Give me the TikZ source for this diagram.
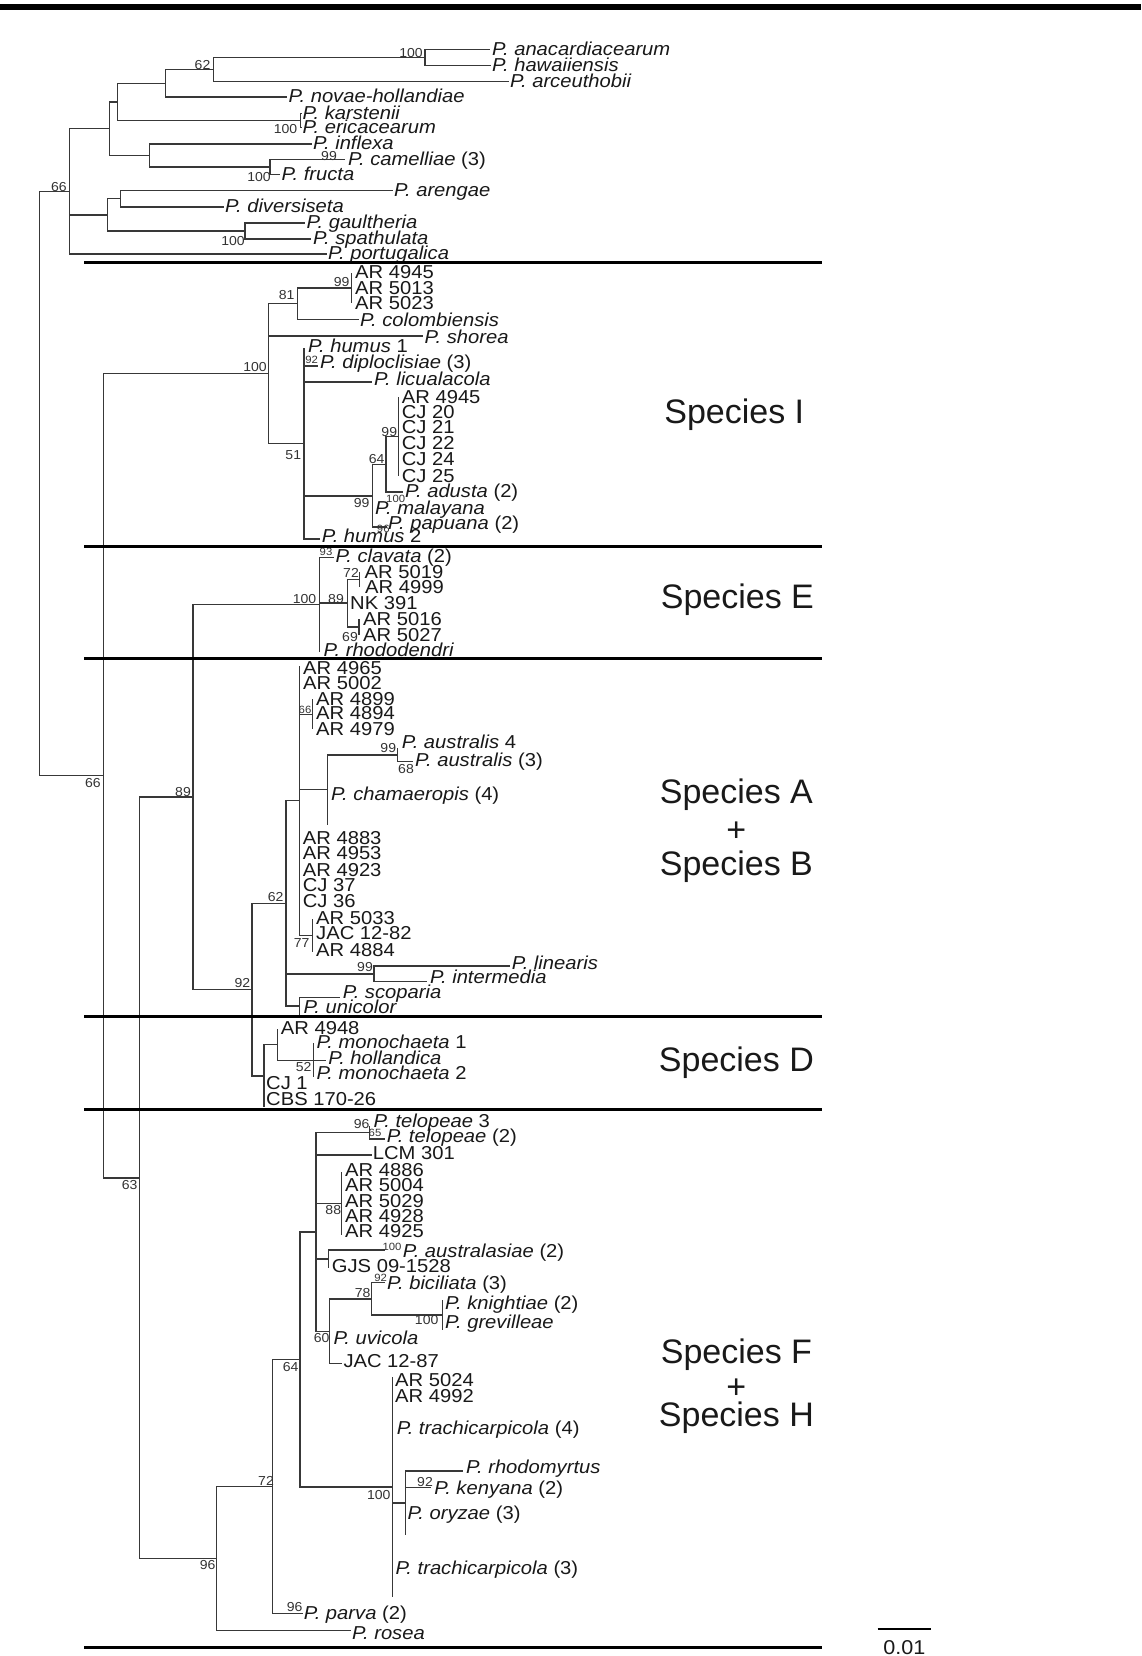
\documentclass[tikz,border=0pt]{standalone}
\usepackage{fontspec}
\setmainfont{Liberation Sans}[FakeStretch=1.08]
\newfontfamily\specfont{Liberation Sans}
\newcommand\Pn[1]{\textit{P. #1}}
\newcommand\Tip[6]{\coordinate (t#1) at (#2,#3);\node[tl] (l#1) at (#4,#5) {#6};}
\newcommand\Edge[2]{\foreach \kid in {#2}{\draw[br] (#1) |- (\kid);}}
\newcommand\SupL[5][sl]{\node[#1] (#2) at (#3,#4) {#5};}
\begin{document}
\begin{tikzpicture}[x=1pt,y=-1pt,
  br/.style={line width=1.35pt, draw=black!78},
  tl/.style={anchor=west, inner sep=0pt, text height=13.2pt, text depth=0pt, font=\fontsize{18.7pt}{18.7pt}\selectfont, text=black!90},
  sl/.style={inner sep=0pt, font=\fontsize{13pt}{13pt}\selectfont, text=black!80},
  ssl/.style={inner sep=0pt, font=\fontsize{10.5pt}{10.5pt}\selectfont, text=black!80},
  sepl/.style={line width=3pt, draw=black},
  spl/.style={inner sep=0pt, align=center, font=\specfont\fontsize{34pt}{34pt}\selectfont, text=black!90}]
\fill[white] (0,0) rectangle (1141,1656);
\useasboundingbox (0,0) rectangle (1141,1656);

% ---------- internal nodes ----------
\coordinate (root) at (39.5,483.55);
\coordinate (n66) at (69.2,191.4);
\coordinate (nA) at (109.5,128.7);
\coordinate (n298) at (117.8,101.9);
\coordinate (n418) at (165.3,83.25);
\coordinate (n62) at (213.5,69.5);
\coordinate (n100a) at (425,57.5);
\coordinate (nkar) at (300.5,120.5);
\coordinate (ninf) at (149.5,155.5);
\coordinate (nfru) at (270,167);
\coordinate (nB) at (107.5,214.9);
\coordinate (ndiv) at (120.6,198.75);
\coordinate (ngaul) at (245,231);

\coordinate (n66b) at (103.6,775.7);
\coordinate (nI) at (268.3,373.6);
\coordinate (n81) at (297.3,303.65);
\coordinate (n99a) at (351.7,288);
\coordinate (n51) at (304,443.5);
\coordinate (n99b) at (372.7,495.9);
\coordinate (n64) at (386,464.4);
\coordinate (n99c) at (398.3,436.35);

\coordinate (n63) at (139.2,1177.85);
\coordinate (n89) at (193,797.1);
\coordinate (nE) at (319.5,604.5);
\coordinate (n89E) at (347.2,603.1);
\coordinate (n72E) at (359.8,579.2);
\coordinate (n69E) at (359,627.15);
\coordinate (n92) at (251.9,989.65);
\coordinate (n62AB) at (286,903.3);
\coordinate (nAB1) at (299.3,800.75);
\coordinate (n66AB) at (312.7,714.3);
\coordinate (nCham) at (327.3,789.65);
\coordinate (n99au) at (397.7,755);
\coordinate (n77) at (312.7,935.5);
\coordinate (n99L) at (374,973.85);
\coordinate (nSU) at (299.3,1006.15);
\coordinate (nD) at (264.1,1076);
\coordinate (nD2) at (277.6,1044.65);
\coordinate (n52) at (313.2,1060.3);

\coordinate (n96) at (216.7,1558.6);
\coordinate (n72) at (272.8,1486.45);
\coordinate (n64F) at (300,1359.45);
\coordinate (nF1) at (316,1231.9);
\coordinate (n96T) at (369.3,1132.5);
\coordinate (n88) at (341.7,1203.35);
\coordinate (nAus) at (328.3,1259.15);
\coordinate (n60) at (329.3,1331.3);
\coordinate (n78) at (371.7,1298.85);
\coordinate (n100K) at (442.7,1315);
\coordinate (n100H) at (392.2,1487);
\coordinate (nRK) at (405.3,1503);

% ---------- tips ----------
\Tip{anac}{490}{49.5}{492}{48.5}{\Pn{anacardiacearum}}
\Tip{haw}{491}{65.5}{492}{64.5}{\Pn{hawaiiensis}}
\Tip{arc}{509}{81.5}{510}{80.5}{\Pn{arceuthobii}}
\Tip{novae}{287}{97}{288.5}{96}{\Pn{novae-hollandiae}}
\Tip{kar}{302}{113.5}{302.5}{112.5}{\Pn{karstenii}}
\Tip{eric}{302}{127.5}{302.5}{127}{\Pn{ericacearum}}
\Tip{infl}{312}{144}{313}{143}{\Pn{inflexa}}
\Tip{cam}{345}{159.5}{348}{158.5}{\Pn{camelliae} (3)}
\Tip{fru}{280}{174.5}{281.5}{174}{\Pn{fructa}}
\Tip{aren}{393}{190.5}{394}{189.5}{\Pn{arengae}}
\Tip{div}{224}{207}{225}{206}{\Pn{diversiseta}}
\Tip{gaul}{305}{223}{306.5}{222}{\Pn{gaultheria}}
\Tip{spath}{311}{239}{313}{238}{\Pn{spathulata}}
\Tip{port}{327}{254}{328}{253}{\Pn{portugalica}}

\Tip{ARa}{351.7}{272.7}{355}{272}{AR 4945}
\Tip{ARb}{351.7}{288.3}{355}{288}{AR 5013}
\Tip{ARc}{351.7}{303.3}{355}{303}{AR 5023}
\Tip{col}{358.5}{319.3}{360}{319.5}{\Pn{colombiensis}}
\Tip{shorea}{423.3}{336}{424.5}{336.5}{\Pn{shorea}}
\Tip{humA}{304}{348}{308}{346}{\Pn{humus} 1}
\Tip{dip}{318}{366}{320}{362}{\Pn{diploclisiae} (3)}
\Tip{lic}{372}{382}{374}{379}{\Pn{licualacola}}
\Tip{ARd}{398.3}{396.7}{401.7}{396.7}{AR 4945}
\Tip{CJa}{398.3}{411.7}{401.7}{411.5}{CJ 20}
\Tip{CJb}{398.3}{426.7}{401.7}{426.5}{CJ 21}
\Tip{CJc}{398.3}{442.7}{401.7}{442.5}{CJ 22}
\Tip{CJd}{398.3}{459.3}{401.7}{459}{CJ 24}
\Tip{CJe}{398.3}{476}{401.7}{475.5}{CJ 25}
\Tip{adu}{403.3}{492}{405}{491}{\Pn{adusta} (2)}
\Tip{mal}{372.7}{509}{375}{508.3}{\Pn{malayana}}
\Tip{pap}{386.5}{527}{388}{523.3}{\Pn{papuana} (2)}
\Tip{humB}{320}{539}{321.7}{536}{\Pn{humus} 2}

\Tip{clav}{334}{557.3}{335.3}{556}{\Pn{clavata} (2)}
\Tip{ARe}{359.8}{571.7}{364.5}{571.5}{AR 5019}
\Tip{ARf}{359.8}{586.7}{365}{587}{AR 4999}
\Tip{NK}{347.2}{603}{350}{603.3}{NK 391}
\Tip{ARg}{359}{619.3}{363}{618.5}{AR 5016}
\Tip{ARh}{359}{635}{363}{634.5}{AR 5027}
\Tip{rhod}{319.5}{651.7}{323.5}{650}{\Pn{rhododendri}}

\Tip{ARi}{299.3}{666}{303}{668}{AR 4965}
\Tip{ARj}{299.3}{683.3}{303}{683.3}{AR 5002}
\Tip{ARk}{312.7}{699.3}{316}{699.3}{AR 4899}
\Tip{ARl}{312.7}{713.3}{316}{713.3}{AR 4894}
\Tip{ARm}{312.7}{729.3}{316}{729.3}{AR 4979}
\Tip{ausA}{397.7}{748.3}{401.7}{741.7}{\Pn{australis} 4}
\Tip{ausB}{413.3}{761.7}{415}{760}{\Pn{australis} (3)}
\coordinate (tchamend) at (327.3,825);
\node[tl] (lcham) at (331,794) {\Pn{chamaeropis} (4)};
\Tip{ARn}{299.3}{838.3}{302.7}{838.3}{AR 4883}
\Tip{ARo}{299.3}{853.3}{302.7}{853.3}{AR 4953}
\Tip{ARp}{299.3}{870}{302.7}{870}{AR 4923}
\Tip{CJf}{299.3}{885}{302.7}{885}{CJ 37}
\Tip{CJg}{299.3}{900.7}{302.7}{900.7}{CJ 36}
\Tip{ARq}{312.7}{919}{316}{918.3}{AR 5033}
\Tip{JACa}{312.7}{935}{316}{933.3}{JAC 12-82}
\Tip{ARr}{312.7}{952}{316}{950}{AR 4884}
\Tip{lin}{510}{966}{511.7}{963.3}{\Pn{linearis}}
\Tip{inter}{426.7}{981.7}{430}{976.7}{\Pn{intermedia}}
\Tip{scop}{340}{997.3}{342.7}{991.7}{\Pn{scoparia}}
\Tip{unic}{299.3}{1015}{303.3}{1006.7}{\Pn{unicolor}}

\Tip{ARs}{277.6}{1029}{280.7}{1028.3}{AR 4948}
\Tip{monA}{313.2}{1043.3}{316.3}{1041.7}{\Pn{monochaeta} 1}
\Tip{holl}{326.2}{1060.7}{328.2}{1058.3}{\Pn{hollandica}}
\Tip{monB}{313.2}{1077.3}{316.3}{1073.3}{\Pn{monochaeta} 2}
\Tip{CJh}{264.1}{1083}{266}{1082.7}{CJ 1}
\Tip{CBS}{264.1}{1107}{266}{1099.3}{CBS 170-26}

\Tip{telA}{369.3}{1126}{373.3}{1120.7}{\Pn{telopeae} 3}
\Tip{telB}{385}{1139}{386.7}{1136}{\Pn{telopeae} (2)}
\Tip{LCM}{371.7}{1155}{372.7}{1153.3}{LCM 301}
\Tip{ARt}{341.7}{1171.7}{345}{1170}{AR 4886}
\Tip{ARu}{341.7}{1186.5}{345}{1185}{AR 5004}
\Tip{ARv}{341.7}{1202}{345}{1200.7}{AR 5029}
\Tip{ARw}{341.7}{1217.5}{345}{1216}{AR 4928}
\Tip{ARx}{341.7}{1235}{345}{1230.7}{AR 4925}
\Tip{ausl}{385}{1250}{402.7}{1250.7}{\Pn{australasiae} (2)}
\Tip{GJS}{328.3}{1268.3}{331.7}{1266}{GJS 09-1528}
\Tip{bic}{385}{1282.7}{387}{1283}{\Pn{biciliata} (3)}
\Tip{knight}{442.7}{1300}{445}{1302.7}{\Pn{knightiae} (2)}
\Tip{grev}{442.7}{1330}{445}{1321.7}{\Pn{grevilleae}}
\Tip{uvi}{329.3}{1338}{333.3}{1338.3}{\Pn{uvicola}}
\Tip{JACb}{341.7}{1363.3}{343.3}{1360.7}{JAC 12-87}
\Tip{ARy}{392.2}{1377}{395}{1380}{AR 5024}
\Tip{ARz}{392.2}{1396}{395}{1396}{AR 4992}
\Tip{traA}{392.2}{1428}{396.7}{1428.3}{\Pn{trachicarpicola} (4)}
\Tip{traB}{392.2}{1568}{395.4}{1568.3}{\Pn{trachicarpicola} (3)}
\coordinate (tHbot) at (392.2,1597);
\Tip{rhodo}{462.6}{1471}{466}{1467}{\Pn{rhodomyrtus}}
\Tip{ken}{431}{1487.3}{434.2}{1488.3}{\Pn{kenyana} (2)}
\Tip{ory}{405.3}{1513}{407.3}{1513.3}{\Pn{oryzae} (3)}
\coordinate (tRKbot) at (405.3,1535);
\Tip{parva}{302.5}{1613.3}{303.7}{1612.7}{\Pn{parva} (2)}
\Tip{rosea}{351}{1630.7}{352}{1632.7}{\Pn{rosea}}

% ---------- branches ----------
\Edge{root}{n66,n66b}
\Edge{n66}{nA,nB,tport}
\Edge{nA}{n298,ninf}
\Edge{n298}{n418,nkar}
\Edge{n418}{n62,tnovae}
\Edge{n62}{n100a,tarc}
\Edge{n100a}{tanac,thaw}
\Edge{nkar}{tkar,teric}
\Edge{ninf}{tinfl,nfru}
\Edge{nfru}{tcam,tfru}
\Edge{nB}{ndiv,ngaul}
\Edge{ndiv}{taren,tdiv}
\Edge{ngaul}{tgaul,tspath}

\Edge{n66b}{nI,n63}
\Edge{nI}{n81,tshorea,n51}
\Edge{n81}{n99a,tcol}
\Edge{n99a}{tARa,tARb,tARc}
\Edge{n51}{thumA,tdip,tlic,n99b,thumB}
\Edge{n99b}{n64,tmal,tpap}
\Edge{n64}{n99c,tadu}
\Edge{n99c}{tARd,tCJa,tCJb,tCJc,tCJd,tCJe}

\Edge{n63}{n89,n96}
\Edge{n89}{nE,n92}
\Edge{nE}{tclav,n89E,trhod}
\Edge{n89E}{n72E,tNK,n69E}
\Edge{n72E}{tARe,tARf}
\Edge{n69E}{tARg,tARh}
\Edge{n92}{n62AB,nD}
\Edge{n62AB}{nAB1,n99L,nSU}
\Edge{nAB1}{tARi,tARj,n66AB,nCham,tARn,tARo,tARp,tCJf,tCJg,n77}
\Edge{n66AB}{tARk,tARl,tARm}
\Edge{nCham}{n99au,tchamend}
\Edge{n99au}{tausA,tausB}
\Edge{n77}{tARq,tJACa,tARr}
\Edge{n99L}{tlin,tinter}
\Edge{nSU}{tscop,tunic}
\Edge{nD}{nD2,tCJh,tCBS}
\Edge{nD2}{tARs,n52}
\Edge{n52}{tmonA,tholl,tmonB}

\Edge{n96}{n72,trosea}
\Edge{n72}{n64F,tparva}
\Edge{n64F}{nF1,n100H}
\Edge{nF1}{n96T,tLCM,n88,nAus,n60}
\Edge{n96T}{ttelA,ttelB}
\Edge{n88}{tARt,tARu,tARv,tARw,tARx}
\Edge{nAus}{tausl,tGJS}
\Edge{n60}{n78,tuvi,tJACb}
\Edge{n78}{tbic,n100K}
\Edge{n100K}{tknight,tgrev}
\Edge{n100H}{tARy,tARz,ttraA,nRK,ttraB,tHbot}
\Edge{nRK}{trhodo,tken,tory,tRKbot}

% ---------- support values ----------
\SupL{s1}{411}{53.5}{100}
\SupL{s2}{202.5}{65}{62}
\SupL{s3}{285.5}{129.5}{100}
\SupL{s4}{329}{156}{99}
\SupL{s5}{259}{177}{100}
\SupL{s6}{59}{187}{66}
\SupL{s7}{233}{241}{100}
\SupL{s8}{341.7}{281.7}{99}
\SupL{s9}{286.7}{295}{81}
\SupL{s10}{255}{367}{100}
\SupL[ssl]{s11}{311.7}{360}{92}
\SupL{s12}{293.3}{455}{51}
\SupL{s13}{376.7}{459.3}{64}
\SupL{s14}{389.3}{431.7}{99}
\SupL{s15}{361.7}{503.3}{99}
\SupL[ssl]{s16}{395.7}{499.3}{100}
\SupL[ssl]{s17}{383.3}{529}{96}
\SupL[ssl]{s18}{326}{551.7}{93}
\SupL{s19}{304.5}{599.3}{100}
\SupL{s20}{336}{599.3}{89}
\SupL{s21}{351}{573.3}{72}
\SupL{s22}{350}{636.7}{69}
\SupL{s23}{92.9}{783.3}{66}
\SupL{s24}{183}{791.7}{89}
\SupL[ssl]{s25}{305}{710}{66}
\SupL{s26}{388.3}{748.3}{99}
\SupL{s27}{406}{769.3}{68}
\SupL{s28}{275.6}{896.7}{62}
\SupL{s29}{301.7}{943.3}{77}
\SupL{s30}{365}{966.7}{99}
\SupL{s31}{242.4}{983.3}{92}
\SupL{s32}{303.7}{1067.3}{52}
\SupL{s33}{129.7}{1185}{63}
\SupL{s34}{361.7}{1124}{96}
\SupL[ssl]{s35}{375}{1132.7}{65}
\SupL{s36}{333.3}{1210}{88}
\SupL[ssl]{s37}{392}{1247}{100}
\SupL[ssl]{s38}{380.7}{1278.3}{92}
\SupL{s39}{362.7}{1292.7}{78}
\SupL{s40}{426.7}{1320}{100}
\SupL{s41}{321.7}{1338.3}{60}
\SupL{s42}{290.7}{1366.7}{64}
\SupL{s43}{266}{1480.7}{72}
\SupL{s44}{378.8}{1495}{100}
\SupL{s45}{425}{1481.7}{92}
\SupL{s46}{207.6}{1565}{96}
\SupL{s47}{294.6}{1606.7}{96}

% ---------- separators ----------
\draw[line width=5.5pt] (0,7) -- (1141,7);
\foreach \yy in {262.7,546.2,658.3,1016.7,1109,1647.5}
  \draw[sepl] (84,\yy) -- (822,\yy);

% ---------- species labels ----------
\node[spl] (spI) at (734.3,415.2) {Species I};
\node[spl] (spE) at (737.4,600.1) {Species E};
\node[spl] (spA) at (736.4,794.5) {Species A};
\node[spl] (spP1) at (736.4,831.5) {+};
\node[spl] (spB) at (736.4,866.3) {Species B};
\node[spl] (spD) at (736.4,1062.8) {Species D};
\node[spl] (spF) at (736.4,1354.4) {Species F};
\node[spl] (spP2) at (736.4,1388.2) {+};
\node[spl] (spH) at (736.4,1417.8) {Species H};

% ---------- scale bar ----------
\coordinate (sbA) at (877.7,1629);
\coordinate (sbB) at (931,1629);
\draw[line width=2.5pt] (sbA) -- (sbB);
\node[inner sep=0pt, font=\fontsize{20pt}{20pt}\selectfont, text=black!90] (sbl) at (904.3,1648) {0.01};
\end{tikzpicture}
\end{document}
